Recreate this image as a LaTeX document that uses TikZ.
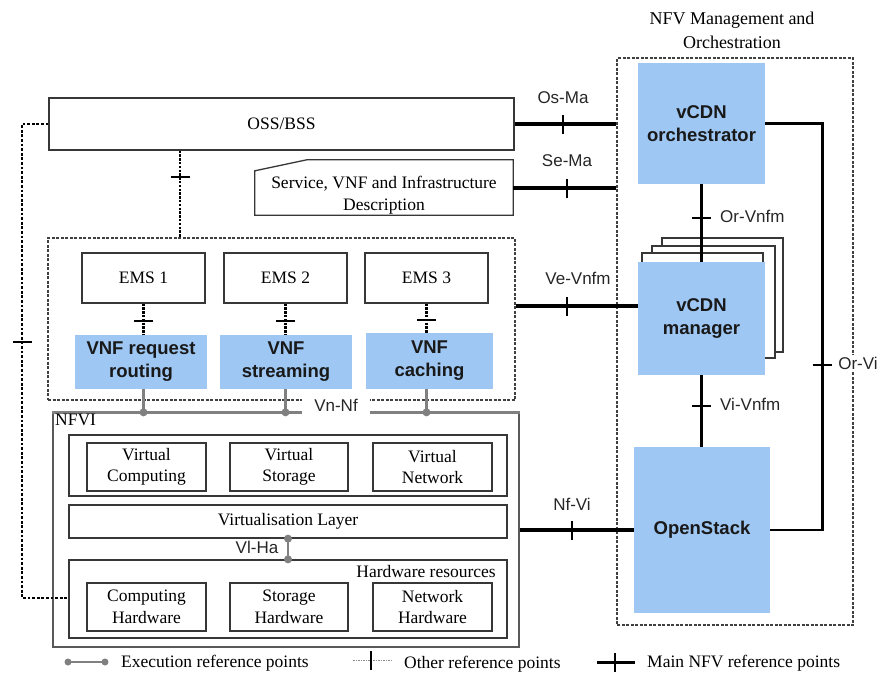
\documentclass[tikz,border=0pt]{standalone}
\usepackage{fontspec}
\setmainfont{Liberation Serif}
\setsansfont{Liberation Sans}
\usetikzlibrary{calc,decorations.markings}
\definecolor{vblue}{RGB}{158,199,243}
\definecolor{egray}{RGB}{128,128,128}
\definecolor{edge}{RGB}{55,55,55}
\begin{document}
\begin{tikzpicture}[x=1pt,y=-1pt,
  serif/.style={font=\fontsize{17.5}{21.5}\selectfont},
  box/.style={draw=edge, line width=1.3pt, fill=white, inner sep=0pt, align=center, serif},
  bluebox/.style={fill=vblue, inner sep=0pt, align=center, text=black!90,
     font=\sffamily\bfseries\fontsize{18.5}{23}\selectfont},
  lbl/.style={font=\sffamily\fontsize{17}{20}\selectfont, text=black!85, inner sep=1pt},
  dashbox/.style={draw=black!75, line width=1.1pt, dash pattern=on 3pt off 1.5pt, inner sep=0pt},
  page/.style={draw=edge, line width=1.3pt, fill=white, inner sep=0pt},
  mainline/.style={line width=3.6pt},
  midline/.style={line width=2.6pt},
  otherline/.style={line width=2.3pt, dash pattern=on 2.3pt off 1.5pt},
  execline/.style={draw=egray, line width=2.4pt},
  edot/.style={circle, fill=egray, inner sep=0pt, minimum size=8pt},
  tickat/.style 2 args={postaction={decorate, decoration={markings,
     mark=at position #1 with {\draw[solid, line width=#2, black] (0,-9.5pt) -- (0,9.5pt);}}}}
]
\useasboundingbox (0,0) rectangle (881,675);

% ---------- OSS / BSS ----------
\node[box, minimum width=465pt, minimum height=52pt] (oss) at (281.5,124) {OSS/BSS};

% Service description (cut corner)
\node[inner sep=0pt, minimum width=258pt, minimum height=55pt] (sd) at (384,187.5) {};
\draw[draw=edge, line width=1.3pt, fill=white]
  ($(sd.north west)+(52,0)$) -- (sd.north east) -- (sd.south east) -- (sd.south west)
  -- ($(sd.north west)+(0,11)$) -- cycle;
\node[serif, align=center, inner sep=0pt] (sdtext) at (384,195) {Service, VNF and Infrastructure\\Description};

% ---------- VNF area ----------
\node[dashbox, minimum width=467pt, minimum height=162pt] (vnfarea) at (281.5,319) {};

\node[box, minimum width=123pt, minimum height=50pt] (ems1) at (143.5,278) {EMS 1};
\node[box, minimum width=123pt, minimum height=50pt] (ems2) at (285.5,278) {EMS 2};
\node[box, minimum width=123pt, minimum height=50pt] (ems3) at (426.5,278) {EMS 3};

\node[bluebox, minimum width=132pt, minimum height=54pt] (vnf1) at (141,362) {VNF request\\routing};
\node[bluebox, minimum width=132pt, minimum height=54pt] (vnf2) at (286,362) {VNF\\streaming};
\node[bluebox, minimum width=127pt, minimum height=56pt] (vnf3) at (429.5,361) {VNF\\caching};

\draw[otherline, tickat={0.56}{1.7pt}] (ems1.south) -- (ems1.south |- vnf1.north);
\draw[otherline, tickat={0.56}{1.7pt}] (ems2.south) -- (ems2.south |- vnf2.north);
\draw[otherline, tickat={0.56}{1.7pt}] (ems3.south) -- (ems3.south |- vnf3.north);

% OSS to VNF area
\draw[otherline, tickat={0.3}{1.7pt}] (oss.south -| 180,0) -- (vnfarea.north -| 180,0);

% ---------- NFVI ----------
\node[draw=black!65, line width=1.3pt, inner sep=0pt, minimum width=466pt, minimum height=234pt] (nfvi) at (286,530) {};
\draw[execline] (nfvi.north west) -- (nfvi.north east);
\node[serif, anchor=north west, inner sep=1pt] (nfvilbl) at (54,413) {NFVI};

\node[box, minimum width=438pt, minimum height=61pt] (virt) at (288,465.5) {};
\node[box, minimum width=119pt, minimum height=48pt] (vc) at (146.5,467) {Virtual\\Computing};
\node[box, minimum width=118pt, minimum height=48pt] (vs) at (289,467) {Virtual\\Storage};
\node[box, minimum width=119pt, minimum height=48pt] (vn) at (432.5,467) {Virtual\\Network};

\node[box, minimum width=438pt, minimum height=33pt] (vl) at (288,521.5) {Virtualisation Layer};

\node[box, minimum width=438pt, minimum height=78pt] (hw) at (288,599) {};
\node[serif, anchor=east, inner sep=0pt] (hwlbl) at (496,572) {Hardware resources};
\node[box, minimum width=119pt, minimum height=48pt] (ch) at (146.5,607) {Computing\\Hardware};
\node[box, minimum width=118pt, minimum height=48pt] (sh) at (289,607) {Storage\\Hardware};
\node[box, minimum width=119pt, minimum height=48pt] (nh) at (432.5,607) {Network\\Hardware};

% Vl-Ha
\draw[execline] (vl.south -| 288,0) -- (hw.north -| 288,0);
\node[edot] (vd1) at (vl.south -| 288,0) {};
\node[edot] (vd2) at (hw.north -| 288,0) {};
\node[lbl] (vlha) at (257,547) {Vl-Ha};

% Vn-Nf execution points
\foreach \e/\v in {ems1/vnf1, ems2/vnf2, ems3/vnf3}{
  \draw[execline] (\e.south |- \v.south) -- (\e.south |- nfvi.north);
  \node[edot] at (\e.south |- nfvi.north) {};
}
\node[lbl, fill=white, minimum width=68pt, minimum height=21pt, inner sep=0pt] (vnnf) at (336,405) {Vn-Nf};

% left dotted line OSS -> hardware
\draw[otherline, line width=2.8pt, dash pattern=on 2.8pt off 1.8pt, tickat={0.447}{1.7pt}]
  (oss.west) -- (22,124) -- (22,598) -- (hw.west |- 0,598);

% ---------- MANO ----------
\node[dashbox, minimum width=236pt, minimum height=567pt] (mano) at (735,341.5) {};
\node[serif, align=center, inner sep=0pt, font=\fontsize{18}{24}\selectfont] (manotitle) at (732,30) {NFV Management and\\Orchestration};

\node[bluebox, minimum width=127pt, minimum height=121pt] (orch) at (701.5,123.5) {vCDN\\orchestrator};

\node[page, minimum width=121pt, minimum height=114pt] (pg3) at (722.5,295) {};
\node[page, minimum width=123pt, minimum height=112pt] (pg2) at (713.5,302) {};
\node[page, minimum width=121pt, minimum height=50pt] (pg1) at (702.5,278) {};
\node[bluebox, minimum width=127pt, minimum height=113pt] (mgr) at (701.5,318.5) {vCDN\\manager};

\node[bluebox, minimum width=136pt, minimum height=166pt] (os) at (702,530) {OpenStack};

% Or-Vnfm
\draw[midline, tickat={0.436}{1.7pt}] (orch.south) -- (mgr.north);
\node[lbl, anchor=west] (orvnfm) at (719,216) {Or-Vnfm};
% Vi-Vnfm
\draw[midline, tickat={0.43}{1.7pt}] (mgr.south) -- (mgr.south |- os.north);
\node[lbl, anchor=west] (vivnfm) at (719,404) {Vi-Vnfm};
% Or-Vi
\draw[midline, tickat={0.579}{1.7pt}] (orch.east) -- ++(57,0) |- (os.east);
\node[lbl, fill=white, inner sep=2pt] (orvi) at (858,363) {Or-Vi};

% Os-Ma
\draw[mainline, tickat={0.476}{2.2pt}] (oss.east) -- (mano.west |- oss.east);
\node[lbl] (osma) at (563,98) {Os-Ma};
% Se-Ma
\draw[mainline, tickat={0.52}{2.2pt}] (sd.east |- 0,188) -- (mano.west |- 0,188);
\node[lbl] (sema) at (567,161) {Se-Ma};
% Ve-Vnfm
\draw[mainline, tickat={0.42}{2.2pt}] (vnfarea.east |- 0,306) -- (mgr.west |- 0,306);
\node[lbl] (vevnfm) at (578,278) {Ve-Vnfm};
% Nf-Vi
\draw[mainline, tickat={0.46}{2.2pt}] (nfvi.east |- os.west) -- (os.west);
\node[lbl] (nfvi2) at (572,504) {Nf-Vi};

% ---------- Legend ----------
\coordinate (la1) at (68,662);
\coordinate (la2) at (105,662);
\draw[execline, line width=1.6pt] (la1) -- (la2);
\node[edot, minimum size=7pt] at (la1) {};
\node[edot, minimum size=7pt] at (la2) {};
\node[serif, anchor=west, inner sep=0pt] (lt1) at (121,663) {Execution reference points};

\coordinate (lb1) at (353,660);
\coordinate (lb2) at (392,660);
\draw[draw=black!45, line width=1pt, dash pattern=on 1.5pt off 1pt, tickat={0.46}{1.4pt}] (lb1) -- (lb2);
\node[serif, anchor=west, inner sep=0pt] (lt2) at (404,664) {Other reference points};

\coordinate (lc1) at (597,662);
\coordinate (lc2) at (635,662);
\draw[mainline, line width=3pt, tickat={0.47}{2pt}] (lc1) -- (lc2);
\node[serif, anchor=west, inner sep=0pt] (lt3) at (647,663) {Main NFV reference points};
\end{tikzpicture}
\end{document}
